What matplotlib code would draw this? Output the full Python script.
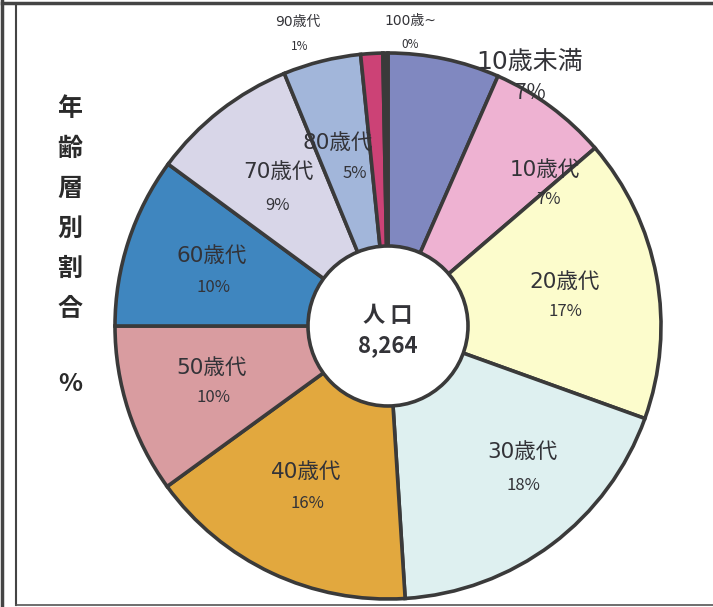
import matplotlib.pyplot as plt
import numpy as np

plt.rcParams['font.family'] = ['Noto Sans CJK JP', 'DejaVu Sans']

# age groups, clockwise from the top
groups = ['10歳未満', '10歳代', '20歳代', '30歳代', '40歳代', '50歳代',
          '60歳代', '70歳代', '80歳代', '90歳代', '100歳~']
shares = [6.6, 7.1, 16.8, 18.5, 16.0, 10.0, 10.1, 8.7, 4.6, 1.3, 0.3]
pct_labels = ['7%', '7%', '17%', '18%', '16%', '10%', '10%', '9%', '5%', '1%', '0%']
colors = ['#8088c0', '#eeb2d2', '#fcfccc', '#def0f0', '#e2a83e', '#d99ca0',
          '#3f86bf', '#d8d6e8', '#a2b6da', '#cc4276', '#3a3a3a']
population = '8,264'

W, H = 713, 607
fig = plt.figure(figsize=(W / 100, H / 100), dpi=100)
ax = fig.add_axes([0, 0, 1, 1])

def Y(y):
    # image row -> data y
    return H - y

cx, cy, R = 388, 326, 273
edge = '#3a3a3a'
ax.pie(shares, colors=colors, startangle=90, counterclock=False,
       center=(cx, Y(cy)), radius=R, frame=True,
       wedgeprops=dict(edgecolor=edge, linewidth=2.6))
ax.set_xlim(0, W)
ax.set_ylim(0, H)
ax.set_aspect('equal')
ax.axis('off')

hole = plt.Circle((cx, Y(cy)), 80, facecolor='white', edgecolor=edge, linewidth=2.6, zorder=5)
ax.add_patch(hole)
txt = '#333338'
ax.text(cx, Y(316), '人 口', ha='center', va='center', fontsize=16, fontweight='bold', color=txt, zorder=6)
ax.text(cx, Y(346), population, ha='center', va='center', fontsize=16, fontweight='bold', color=txt, zorder=6)

# label positions (image pixels) for the two text lines of every group
name_pos = [(530, 62), (545, 170), (565, 282), (522, 452), (306, 472), (212, 368),
            (212, 256), (278, 172), (338, 143), (298, 22), (410, 21)]
pct_pos = [(530, 93), (548, 200), (565, 312), (523, 485), (307, 503), (213, 398),
           (213, 288), (278, 205), (355, 173), (300, 47), (410, 44)]
name_size = [18, 15.5, 15.5, 15.5, 15.5, 15.5, 15.5, 15.5, 15.5, 10, 10]
pct_size = [15, 12, 12, 12, 12, 12, 12, 12, 12, 8.5, 8.5]
mixed = ['DejaVu Sans', 'Noto Sans CJK JP']

for i in range(len(groups)):
    ax.text(name_pos[i][0], Y(name_pos[i][1]), groups[i], ha='center', va='center',
            fontsize=name_size[i], color=txt, zorder=7, family=mixed)
    ax.text(pct_pos[i][0], Y(pct_pos[i][1]), pct_labels[i], ha='center', va='center',
            fontsize=pct_size[i], color=txt, zorder=7)

# vertical title on the left
title = '年齢層別割合'
for k, ch in enumerate(title):
    ax.text(70, Y(109 + k * 40), ch, ha='center', va='center', fontsize=18,
            fontweight='bold', color='#2a2a2a')
ax.text(70, Y(384), '%', ha='center', va='center', fontsize=18, fontweight='bold', color='#2a2a2a')

# frame
ax.plot([2, 2], [0, H], color='#444444', lw=2.5)
ax.plot([16, 16], [Y(4), Y(605)], color='#444444', lw=1.5)
ax.plot([2, W], [Y(3), Y(3)], color='#444444', lw=2.5)
ax.plot([16, W], [Y(605), Y(605)], color='#555555', lw=1.2)

fig.savefig('out.png', dpi=100)
